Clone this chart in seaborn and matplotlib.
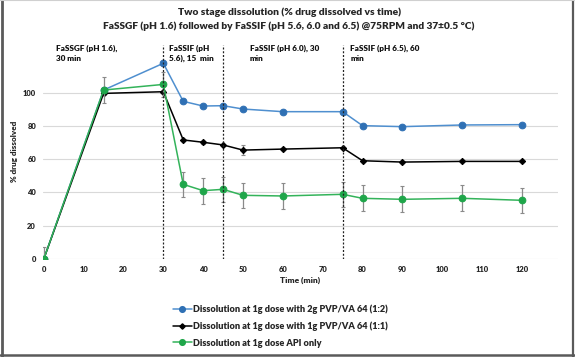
import numpy as np
import pandas as pd
import matplotlib
matplotlib.use("Agg")
import matplotlib.pyplot as plt
from matplotlib.lines import Line2D
import seaborn as sns

time = [0, 15, 30, 35, 40, 45, 50, 60, 75, 80, 90, 105, 120]
blue_12 = [0, 101.6, 117.7, 94.8, 92.0, 92.2, 90.2, 88.6, 88.6, 80.2, 79.6, 80.6, 80.8]
black_11 = [0, 99.6, 100.6, 71.6, 70.2, 68.6, 65.5, 66.1, 66.9, 59.1, 58.3, 58.7, 58.7]
green_api = [0, 101.6, 105.0, 44.9, 41.1, 41.9, 38.3, 37.9, 38.9, 36.5, 35.9, 36.5, 35.3]
green_err = [7.5, 7.8, 7.5, 7.6, 7.8, 7.7, 7.7, 7.8, 7.7, 7.8, 7.9, 7.8, 7.7]
black_err = [0, 1.0, 1.0, 0.8, 0.8, 0.8, 2.8, 0.6, 0.6, 0.6, 0.6, 0.6, 0.6]
blue_err = [0, 1.0, 1.0, 0.8, 0.8, 0.8, 0.8, 0.6, 0.6, 0.6, 0.6, 0.6, 0.6]

labels = ["Dissolution at 1g dose with 2g PVP/VA 64 (1:2)",
          "Dissolution at 1g dose with 1g PVP/VA 64 (1:1)",
          "Dissolution at 1g dose API only"]
phase_lines = [30, 45, 75]
phase_x = [3, 31.4, 51.7, 76.9]
phase_text = ["FaSSGF (pH 1.6),\n30 min", "FaSSIF (pH\n5.6), 15  min",
              "FaSSIF (pH 6.0), 30\nmin", "FaSSIF (pH 6.5), 60\nmin"]
yticks = [0, 20, 40, 60, 80, 100]
xticks = [0, 10, 20, 30, 40, 50, 60, 70, 80, 90, 100, 110, 120]

sns.set_style("white")
plt.rcParams['font.family'] = ['Lato', 'DejaVu Sans']
W = "heavy"

fig = plt.figure(figsize=(5.75, 3.57), dpi=100)
ax = fig.add_axes([0.0748, 0.2745, 0.8952, 0.6055])

df = pd.DataFrame({"time": time * 3,
                   "value": blue_12 + black_11 + green_api,
                   "series": [labels[0]] * len(time) + [labels[1]] * len(time) + [labels[2]] * len(time)})

line_cols = ["#4f8fcf", "#000000", "#33b35a"]
mark_cols = ["#2f70b4", "#000000", "#1fa64a"]
markers = ["o", "D", "o"]
msizes = [4.8, 3.2, 4.8]
errs = [blue_err, black_err, green_err]

for i, lab in enumerate(labels):
    sub = df[df.series == lab]
    ax.errorbar(sub["time"], sub["value"], yerr=errs[i], fmt="none",
                ecolor="#8a8a8a", elinewidth=0.9, capsize=1.5, capthick=0.8, zorder=2 + i)
    sns.lineplot(data=sub, x="time", y="value", ax=ax, color=line_cols[i],
                 marker=markers[i], markersize=msizes[i], markerfacecolor=mark_cols[i],
                 markeredgecolor=mark_cols[i], linewidth=1.1, zorder=3 + i,
                 legend=False, errorbar=None)

for xv in phase_lines:
    ax.axvline(xv, ymin=0, ymax=0.99, color="#222222", lw=0.9,
               linestyle=(0, (1.6, 1.4)), zorder=6)

for xv, t in zip(phase_x, phase_text):
    ax.text(xv, 128.8, t, fontsize=5.9, fontweight=W, va="top", ha="left",
            linespacing=1.4, color="#111111")

ax.set_xlim(-0.2, 129)
ax.set_ylim(0, 130)
ax.set_yticks(yticks)
ax.set_xticks(xticks)
ax.tick_params(axis="both", labelsize=5.5, length=0, pad=5)
for lbl in ax.get_xticklabels() + ax.get_yticklabels():
    lbl.set_fontweight(W)
ax.grid(axis="y", color="#d9d9d9", lw=0.8)
ax.grid(axis="x", visible=False)
for s in ax.spines.values():
    s.set_visible(False)
ax.set_xlabel("Time (min)", fontsize=6, fontweight=W)
ax.xaxis.set_label_coords(0.5, -0.08)
ax.set_ylabel("% drug dissolved", fontsize=5.8, fontweight=W)
ax.yaxis.set_label_coords(-0.048, 0.5)

fig.text(0.503, 0.965, "Two stage dissolution (% drug dissolved vs time)",
         fontsize=7.4, fontweight=W, ha="center", va="center")
fig.text(0.502, 0.926, "FaSSGF (pH 1.6) followed by FaSSIF (pH 5.6, 6.0 and 6.5) @75RPM and 37\u00b10.5 \u00b0C)",
         fontsize=7.3, fontweight=W, ha="center", va="center")

handles = [Line2D([0], [0], color=line_cols[i], marker=markers[i], markersize=msizes[i] * 0.85,
                  markerfacecolor=mark_cols[i], markeredgecolor=mark_cols[i], lw=1.1)
           for i in range(3)]
leg = fig.legend(handles, labels, loc="upper left", bbox_to_anchor=(0.3, 0.146),
                 frameon=False, handlelength=2.1, handletextpad=0.15, labelspacing=0.8,
                 prop={"size": 6.6, "weight": W, "family": ["Lato", "DejaVu Sans"]},
                 borderaxespad=0, borderpad=0)

bc = "#5a5a5a"
fig.add_artist(Line2D([0.003, 0.003], [0.0, 1.0], transform=fig.transFigure, color=bc, lw=2))
fig.add_artist(Line2D([0.996, 0.996], [0.0, 1.0], transform=fig.transFigure, color=bc, lw=1.6))
fig.add_artist(Line2D([0.0, 1.0], [0.006, 0.006], transform=fig.transFigure, color=bc, lw=1.8))
fig.add_artist(Line2D([0.0, 1.0], [0.999, 0.999], transform=fig.transFigure, color="#d0d0d0", lw=0.8))

fig.savefig("out.png", dpi=100)
